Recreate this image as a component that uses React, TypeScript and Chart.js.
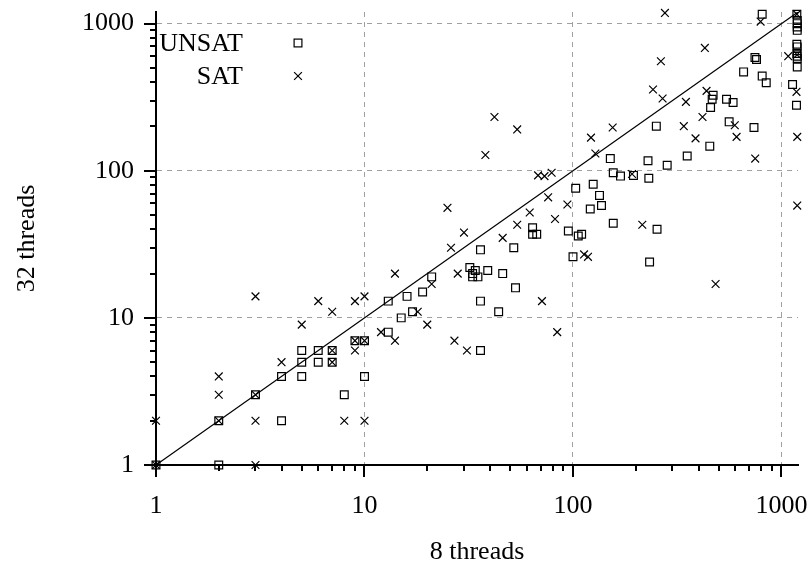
import React, { useEffect, useRef } from 'react';
import { Chart, registerables } from 'chart.js';

Chart.register(...registerables);

// ---- data (x = 8 threads, y = 32 threads) ----
const unsat8 = [
  1, 2, 2, 3, 4, 4, 5, 5, 5, 6, 6, 7, 7, 8, 9, 10, 10,
  21, 19, 16, 13, 17, 15, 13, 36, 36, 44, 53, 100, 95, 106, 110, 134, 137, 121, 103, 125,
  64, 64, 67, 52, 36, 32, 34, 33, 35, 33, 39, 46,
  808, 746, 759, 1185, 1190, 1190, 1190, 1190, 1185, 1190, 1185, 1190, 1190, 1190, 1130, 1180,
  658, 808, 845, 470, 465, 457, 545, 586, 251, 561, 738, 453, 151, 229, 353, 283, 156, 169, 195, 231, 156, 253, 233,
];
const unsat32 = [
  1, 2, 1, 3, 4, 2, 6, 5, 4, 6, 5, 6, 5, 3, 7, 7, 4,
  19, 15, 14, 13, 11, 10, 8, 6, 13, 11, 16, 26, 39, 36, 37, 68, 58, 55, 76, 81,
  41, 37, 37, 30, 29, 22, 21, 20, 19, 19, 21, 20,
  1158, 589, 570, 1160, 1050, 1000, 950, 900, 724, 695, 627, 601, 580, 508, 386, 279,
  470, 440, 396, 326, 306, 269, 306, 291, 201, 215, 197, 147, 121, 117, 126, 109, 97, 92, 93, 89, 44, 40, 24,
];
const sat8 = [
  1, 1, 2, 2, 2, 3, 3, 3, 4, 5, 7, 7, 7, 8, 9, 10, 9, 10, 12, 3, 6, 9, 10,
  25, 30, 26, 14, 21, 18, 20, 14, 27, 31, 71, 84, 113, 118, 76, 94, 62, 82, 54, 46, 28,
  42, 54, 38, 68, 73, 79, 122, 128, 155,
  276, 794, 1185, 429, 264, 1077, 1188, 242, 269, 348, 437, 418, 340, 597, 609, 387, 748, 192, 215, 483, 1180, 1190, 1190,
];
const sat32 = [
  2, 1, 2, 3, 4, 3, 2, 1, 5, 9, 6, 5, 11, 2, 7, 7, 6, 2, 8, 14, 13, 13, 14,
  56, 38, 30, 20, 17, 11, 9, 7, 7, 6, 13, 8, 27, 26, 66, 59, 52, 47, 43, 35, 20,
  232, 191, 128, 93, 92, 97, 168, 131, 197,
  1183, 1033, 1160, 684, 555, 601, 615, 357, 310, 294, 349, 232, 201, 204, 170, 166, 121, 95, 43, 17, 344, 170, 58,
];
const tickValues = [1, 10, 100, 1000];
const axisMin = 1;
const axisMax = 1200;
const diagonal = [axisMin, axisMax];
const legendLabels = ['UNSAT', 'SAT'];

const FONT = 'Liberation Serif';

const toPoints = (xs: number[], ys: number[]) => xs.map((x, i) => ({ x, y: ys[i] }));

const gnuplotPlugin = {
  id: 'gnuplotDecor',
  afterDraw(chart: any) {
    const { ctx, chartArea, scales } = chart;
    const xs = scales.x;
    const ys = scales.y;
    ctx.save();
    ctx.setLineDash([]);
    ctx.globalAlpha = 1;
    ctx.strokeStyle = '#000000';
    ctx.lineWidth = 2;
    for (const d of tickValues) {
      for (let m = 1; m < 10; m++) {
        const v = d * m;
        const len = m === 1 ? 12 : 6;
        if (v >= axisMin && v <= axisMax) {
          const px = Math.round(xs.getPixelForValue(v));
          ctx.beginPath();
          ctx.moveTo(px, chartArea.bottom);
          ctx.lineTo(px, chartArea.bottom + len);
          ctx.stroke();
          const py = Math.round(ys.getPixelForValue(v));
          ctx.beginPath();
          ctx.moveTo(chartArea.left - len, py);
          ctx.lineTo(chartArea.left, py);
          ctx.stroke();
        }
      }
    }

    // legend
    ctx.fillStyle = '#000';
    ctx.font = `26px "${FONT}"`;
    ctx.textAlign = 'right';
    ctx.textBaseline = 'middle';
    const lx = 243;
    const mx = 298;
    const ly = [44, 77];
    ctx.fillText(legendLabels[0], lx, ly[0]);
    ctx.fillText(legendLabels[1], lx, ly[1]);
    ctx.lineWidth = 1.2;
    const s = 3.9;
    ctx.strokeRect(mx - s, ly[0] - s - 1, 2 * s, 2 * s);
    ctx.beginPath();
    ctx.moveTo(mx - s, ly[1] - s - 1);
    ctx.lineTo(mx + s, ly[1] + s - 1);
    ctx.moveTo(mx - s, ly[1] + s - 1);
    ctx.lineTo(mx + s, ly[1] - s - 1);
    ctx.stroke();
    ctx.restore();
  },
};

const gridColor = (c: any) => (c.tick && c.tick.value === 1 ? 'rgba(0,0,0,0)' : '#a0a0a0');

export default function App() {
  const ref = useRef<HTMLCanvasElement | null>(null);
  useEffect(() => {
    if (!ref.current) return;
    const chart = new Chart(ref.current, {
      type: 'scatter',
      data: {
        datasets: [
          {
            label: 'diag',
            data: diagonal.map((v) => ({ x: v, y: v })),
            showLine: true,
            borderColor: '#000',
            borderWidth: 1.2,
            pointRadius: 0,
            fill: false,
          } as any,
          {
            label: legendLabels[0],
            data: toPoints(unsat8, unsat32),
            pointStyle: 'rect',
            pointRadius: 5.5,
            borderColor: '#000',
            backgroundColor: 'rgba(0,0,0,0)',
            borderWidth: 1.2,
            clip: false,
          } as any,
          {
            label: legendLabels[1],
            data: toPoints(sat8, sat32),
            pointStyle: 'crossRot',
            pointRadius: 5.5,
            borderColor: '#000',
            backgroundColor: 'rgba(0,0,0,0)',
            borderWidth: 1.2,
            clip: false,
          } as any,
        ],
      },
      options: {
        animation: false,
        responsive: false,
        maintainAspectRatio: false,
        events: [],
        layout: { padding: { top: 12, right: 14, left: 0, bottom: 0 } },
        plugins: { legend: { display: false }, tooltip: { enabled: false } },
        scales: {
          x: {
            type: 'logarithmic',
            position: 'bottom',
            min: axisMin,
            max: axisMax,
            afterBuildTicks: (scale: any) => {
              scale.ticks = tickValues.map((v) => ({ value: v }));
            },
            afterFit: (scale: any) => {
              scale.height = 107;
              scale.paddingLeft = 0;
              scale.paddingRight = 0;
            },
            ticks: {
              autoSkip: false,
              maxRotation: 0,
              padding: 26,
              color: '#000',
              font: { family: FONT, size: 26 },
              callback: (v: any) => String(v),
            },
            grid: { color: gridColor, lineWidth: 1, drawTicks: false, tickLength: 0 },
            border: { display: true, color: '#000', width: 2, dash: [5, 5] },
            title: {
              display: true,
              text: '8 threads',
              color: '#000',
              font: { family: FONT, size: 26, lineHeight: 1.2 },
              padding: { top: 0, bottom: 4 },
            },
          },
          y: {
            type: 'logarithmic',
            position: 'left',
            min: axisMin,
            max: axisMax,
            afterBuildTicks: (scale: any) => {
              scale.ticks = tickValues.map((v) => ({ value: v }));
            },
            afterFit: (scale: any) => {
              scale.width = 156;
              scale.paddingTop = 0;
              scale.paddingBottom = 0;
            },
            ticks: {
              autoSkip: false,
              padding: 22,
              color: '#000',
              font: { family: FONT, size: 26 },
              callback: (v: any) => String(v),
            },
            grid: { color: gridColor, lineWidth: 1, drawTicks: false, tickLength: 0 },
            border: { display: true, color: '#000', width: 2, dash: [5, 5] },
            title: {
              display: true,
              text: '32 threads',
              color: '#000',
              font: { family: FONT, size: 26, lineHeight: 1.2 },
              padding: { top: 12, bottom: 0 },
            },
          },
        },
      },
      plugins: [gnuplotPlugin],
    } as any);
    return () => chart.destroy();
  }, []);
  return (
    <div style={{ position: 'absolute', left: 0, top: 0, width: 812, height: 572, background: '#fff' }}>
      <canvas ref={ref} width={812} height={572} style={{ display: 'block' }} />
    </div>
  );
}
